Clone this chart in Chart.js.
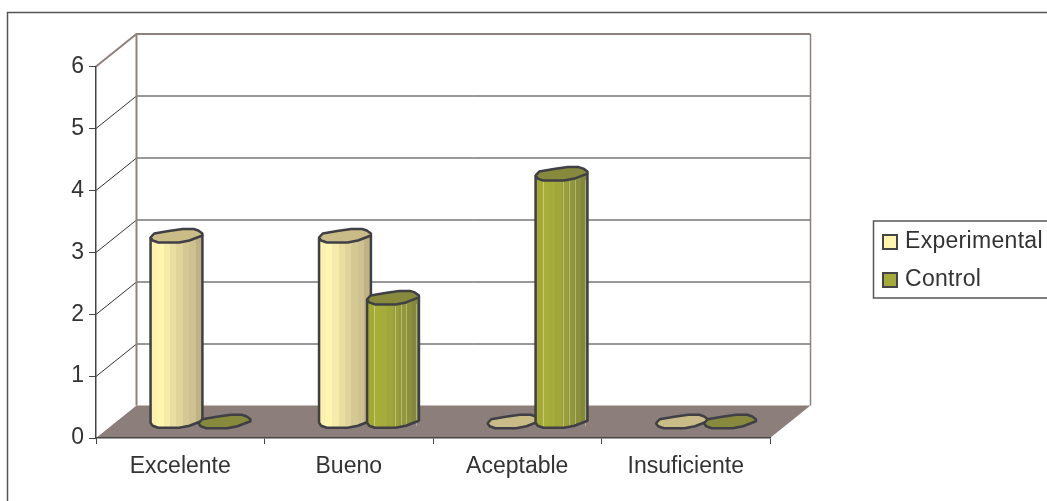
<!DOCTYPE html>
<html>
<head>
<meta charset="utf-8">
<style>
  html, body { margin: 0; padding: 0; background: #fff; }
  canvas { display: block; }
</style>
<script src="https://cdn.jsdelivr.net/npm/chart.js@4/dist/chart.umd.js"></script>
</head>
<body>
<canvas id="chart" width="1047" height="501"></canvas>
<script>
const categories = ['Excelente', 'Bueno', 'Aceptable', 'Insuficiente'];
const experimental = [3, 3, 0, 0];
const control = [0, 2, 4, 0];
const valueTicks = [0, 1, 2, 3, 4, 5, 6];

const FONT = { family: '"Liberation Sans", Arial, sans-serif', size: 23 };
const TEXT_COLOR = '#333';
const LINE_COLOR = '#444';
const WALL_EDGE = '#8f817d';
const FLOOR_COLOR = '#8c7e7a';

// Depth of the box, the columns stand half way into it
const DEPTH_X = 40.5;
const DEPTH_Y = 32.5;

// Faceted column outline: [fraction of width, px from centre]
const CAP_FRONT = [[-0.5, 1.5], [-0.46, 4.5], [-0.35, 6.5], [0.05, 6.5], [0.25, 4.5], [0.5, -0.5]];
const CAP_BACK = [[0.5, -2.5], [0.42, -5.5], [0.33, -7], [0.12, -7], [-0.15, -5], [-0.43, -2.5]];

const BODY_BANDS = {
  Experimental: ['#fdf2ab', '#fff7b0', '#f6ebaa', '#e9dda0', '#e0d49a', '#d4c893', '#cfc290', '#bfb285'],
  Control: ['#a3a935', '#a8ae3a', '#a6ac3a', '#a0a63a', '#999e3a', '#92973b', '#8b903b', '#83883c'],
};
const CAP_COLORS = { Experimental: '#c9bc87', Control: '#878a3c' };
const SWATCH_COLORS = { Experimental: '#fff5ad', Control: '#a5ab38' };
// Thin highlights along the facets of the darker columns
const FACET_LINES = { Experimental: [], Control: [0.14, 0.53, 0.65, 0.76, 0.95] };

function bandGradient(ctx, left, width, colors) {
  const grad = ctx.createLinearGradient(left, 0, left + width, 0);
  colors.forEach((c, i) => {
    grad.addColorStop(i / colors.length, c);
    grad.addColorStop((i + 1) / colors.length, c);
  });
  return grad;
}

function tracePoints(ctx, points, cx, cy, w, start) {
  points.forEach((p, i) => {
    const x = cx + p[0] * w;
    const y = cy + p[1];
    if (i === 0 && start) ctx.moveTo(x, y);
    else ctx.lineTo(x, y);
  });
}

function drawCylinder(ctx, bar, label) {
  const w = bar.width;
  const cx = bar.x + DEPTH_X / 2;
  const top = bar.y - DEPTH_Y / 2;
  const base = bar.base - DEPTH_Y / 2;

  ctx.lineWidth = 2.5;
  ctx.lineJoin = 'bevel';
  ctx.strokeStyle = '#3f3f45';

  if (base - top > 1) {
    ctx.beginPath();
    ctx.moveTo(cx - w / 2, top + 1.5);
    tracePoints(ctx, CAP_FRONT, cx, base, w, false);
    ctx.lineTo(cx + w / 2, top - 0.5);
    ctx.closePath();
    ctx.fillStyle = bandGradient(ctx, cx - w / 2, w, BODY_BANDS[label]);
    ctx.fill();

    ctx.save();
    ctx.lineWidth = 1;
    ctx.strokeStyle = 'rgba(255, 255, 225, 0.35)';
    FACET_LINES[label].forEach(f => {
      const x = Math.round(cx - w / 2 + f * w) + 0.5;
      ctx.beginPath();
      ctx.moveTo(x, top + 6);
      ctx.lineTo(x, base + 5);
      ctx.stroke();
    });
    ctx.restore();

    ctx.beginPath();
    ctx.moveTo(cx - w / 2, top + 1.5);
    tracePoints(ctx, CAP_FRONT, cx, base, w, false);
    ctx.lineTo(cx + w / 2, top - 0.5);
    ctx.closePath();
    ctx.stroke();
  }

  ctx.beginPath();
  tracePoints(ctx, CAP_FRONT, cx, top, w, true);
  tracePoints(ctx, CAP_BACK, cx, top, w, false);
  ctx.closePath();
  ctx.fillStyle = CAP_COLORS[label];
  ctx.fill();
  ctx.stroke();
}

// Side wall, back wall, floor and the outer chart frame, all behind the axes
const boxPlugin = {
  id: 'box',
  beforeDraw(chart) {
    const { ctx, chartArea: area, scales } = chart;
    ctx.save();

    ctx.strokeStyle = '#555';
    ctx.lineWidth = 1.5;
    ctx.beginPath();
    ctx.moveTo(7.5, chart.height);
    ctx.lineTo(7.5, 12.5);
    ctx.lineTo(chart.width, 12.5);
    ctx.stroke();

    ctx.fillStyle = FLOOR_COLOR;
    ctx.beginPath();
    ctx.moveTo(area.left, area.bottom);
    ctx.lineTo(area.left + DEPTH_X, area.bottom - DEPTH_Y);
    ctx.lineTo(area.right + DEPTH_X, area.bottom - DEPTH_Y);
    ctx.lineTo(area.right, area.bottom);
    ctx.closePath();
    ctx.fill();

    ctx.strokeStyle = '#333';
    ctx.lineWidth = 1;
    valueTicks.slice(1, -1).forEach(v => {
      const y = Math.round(scales.y.getPixelForValue(v)) + 0.5;
      ctx.beginPath();
      ctx.moveTo(area.left, y);
      ctx.lineTo(area.left + DEPTH_X, y - DEPTH_Y);
      ctx.lineTo(area.right + DEPTH_X, y - DEPTH_Y);
      ctx.stroke();
    });

    ctx.strokeStyle = WALL_EDGE;
    ctx.lineWidth = 2;
    ctx.beginPath();
    ctx.moveTo(area.left, area.top);
    ctx.lineTo(area.left + DEPTH_X, area.top - DEPTH_Y);
    ctx.lineTo(area.right + DEPTH_X, area.top - DEPTH_Y);
    ctx.moveTo(area.left + DEPTH_X, area.top - DEPTH_Y);
    ctx.lineTo(area.left + DEPTH_X, area.bottom - DEPTH_Y);
    ctx.stroke();
    ctx.lineWidth = 1.5;
    ctx.beginPath();
    ctx.moveTo(area.right + DEPTH_X, area.top - DEPTH_Y);
    ctx.lineTo(area.right + DEPTH_X, area.bottom - DEPTH_Y);
    ctx.stroke();

    ctx.restore();
  },
  // Columns are painted here in series order, so the second series overlaps the first
  beforeDatasetsDraw(chart) {
    const ctx = chart.ctx;
    ctx.save();
    chart.data.datasets.forEach((ds, i) => {
      chart.getDatasetMeta(i).data.forEach(bar => drawCylinder(ctx, bar, ds.label));
    });
    ctx.restore();
  },
  beforeDatasetDraw() {
    return false;
  },
  afterDraw(chart) {
    const ctx = chart.ctx;
    ctx.save();
    ctx.fillStyle = '#fff';
    ctx.strokeStyle = '#555';
    ctx.lineWidth = 1.5;
    ctx.beginPath();
    ctx.moveTo(chart.width, 221);
    ctx.lineTo(873.5, 221);
    ctx.lineTo(873.5, 298);
    ctx.lineTo(chart.width, 298);
    ctx.fill();
    ctx.stroke();

    ctx.font = `${FONT.size}px ${FONT.family}`;
    ctx.textBaseline = 'alphabetic';
    ctx.textAlign = 'left';
    ctx.letterSpacing = '0.3px';
    chart.data.datasets.forEach((ds, i) => {
      const y = 235 + i * 38;
      ctx.fillStyle = SWATCH_COLORS[ds.label];
      ctx.strokeStyle = '#444';
      ctx.lineWidth = 2;
      ctx.fillRect(883, y, 14, 14);
      ctx.strokeRect(883, y, 14, 14);
      ctx.fillStyle = TEXT_COLOR;
      ctx.fillText(ds.label, 905, y + 13);
    });
    ctx.restore();
  },
};

new Chart(document.getElementById('chart'), {
  type: 'bar',
  data: {
    labels: categories,
    datasets: [
      { label: 'Experimental', data: experimental, barPercentage: 1.08, categoryPercentage: 0.57 },
      { label: 'Control', data: control, barPercentage: 1.08, categoryPercentage: 0.57 },
    ],
  },
  options: {
    responsive: false,
    animation: false,
    layout: { padding: { left: 0, right: 277, top: 66.5, bottom: 0 } },
    plugins: { legend: { display: false }, tooltip: { enabled: false } },
    scales: {
      x: {
        grid: { drawOnChartArea: false, color: LINE_COLOR, tickLength: 6, lineWidth: 1 },
        border: { color: LINE_COLOR, width: 1.5 },
        ticks: { font: FONT, color: TEXT_COLOR, padding: 9, maxRotation: 0, autoSkip: false },
        afterFit(scale) { scale.height = 63; },
      },
      y: {
        min: 0,
        max: 6,
        afterBuildTicks(scale) { scale.ticks = valueTicks.map(value => ({ value })); },
        grid: { drawOnChartArea: false, color: LINE_COLOR, tickLength: 7, lineWidth: 1 },
        border: { color: LINE_COLOR, width: 1.5 },
        ticks: { font: FONT, color: TEXT_COLOR, padding: 5 },
        afterFit(scale) { scale.width = 96; },
      },
    },
  },
  plugins: [boxPlugin],
});
</script>
</body>
</html>
